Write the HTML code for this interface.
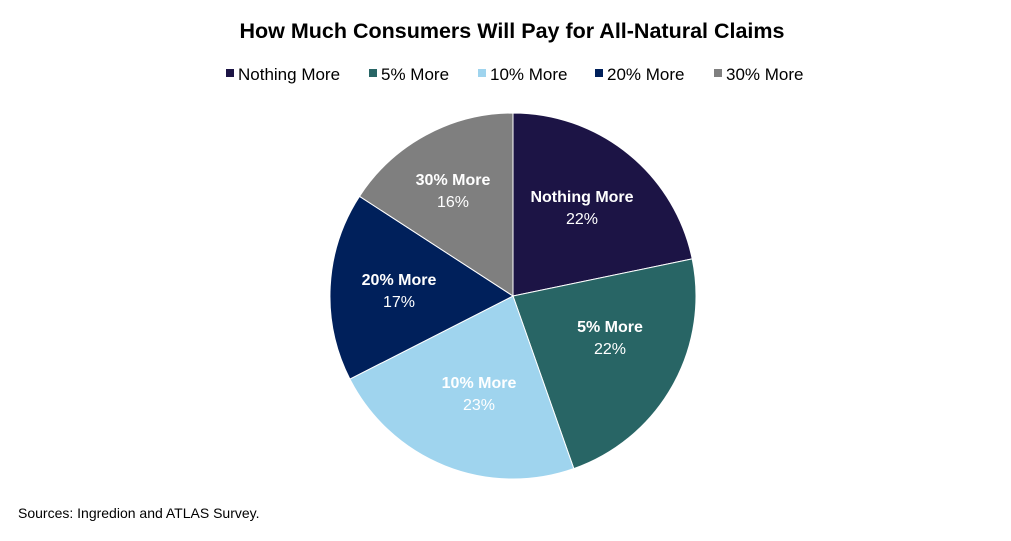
<!DOCTYPE html>
<html><head><meta charset="utf-8"><style>
body{margin:0;background:#fff;width:1011px;height:536px;overflow:hidden;font-family:"Liberation Sans",Arial,sans-serif}
</style></head><body>
<svg width="1011" height="536" xmlns="http://www.w3.org/2000/svg" font-family="Liberation Sans, Arial, sans-serif">
<text x="512" y="38" text-anchor="middle" font-size="21.5" font-weight="bold" fill="#000">How Much Consumers Will Pay for All-Natural Claims</text>
<g font-size="17" fill="#000">
<rect x="226" y="69" width="8" height="8" fill="#1c1445"/><text x="238" y="80">Nothing More</text>
<rect x="369" y="69" width="8" height="8" fill="#286565"/><text x="381" y="80">5% More</text>
<rect x="478" y="69" width="8" height="8" fill="#9fd4ee"/><text x="490" y="80">10% More</text>
<rect x="595" y="69" width="8" height="8" fill="#00205b"/><text x="607" y="80">20% More</text>
<rect x="714" y="69" width="8" height="8" fill="#7f7f7f"/><text x="726" y="80">30% More</text>
</g>
<g stroke="#fff" stroke-width="1">
<path d="M513,296 L513,113 A183,183 0 0 1 692.2,258.9 Z" fill="#1c1445"/>
<path d="M513,296 L692.2,258.9 A183,183 0 0 1 573.8,468.6 Z" fill="#286565"/>
<path d="M513,296 L573.8,468.6 A183,183 0 0 1 349.9,379.1 Z" fill="#9fd4ee"/>
<path d="M513,296 L349.9,379.1 A183,183 0 0 1 359.5,196.3 Z" fill="#00205b"/>
<path d="M513,296 L359.5,196.3 A183,183 0 0 1 513,113 Z" fill="#7f7f7f"/>
</g>
<g font-size="16" fill="#fff" text-anchor="middle">
<text x="582" y="202" font-weight="bold">Nothing More</text><text x="582" y="224">22%</text>
<text x="610" y="332" font-weight="bold">5% More</text><text x="610" y="354">22%</text>
<text x="479" y="388" font-weight="bold">10% More</text><text x="479" y="410">23%</text>
<text x="399" y="285" font-weight="bold">20% More</text><text x="399" y="307">17%</text>
<text x="453" y="185" font-weight="bold">30% More</text><text x="453" y="207">16%</text>
</g>
<text x="18" y="518" font-size="14" fill="#000">Sources: Ingredion and ATLAS Survey.</text>
</svg>
</body></html>
